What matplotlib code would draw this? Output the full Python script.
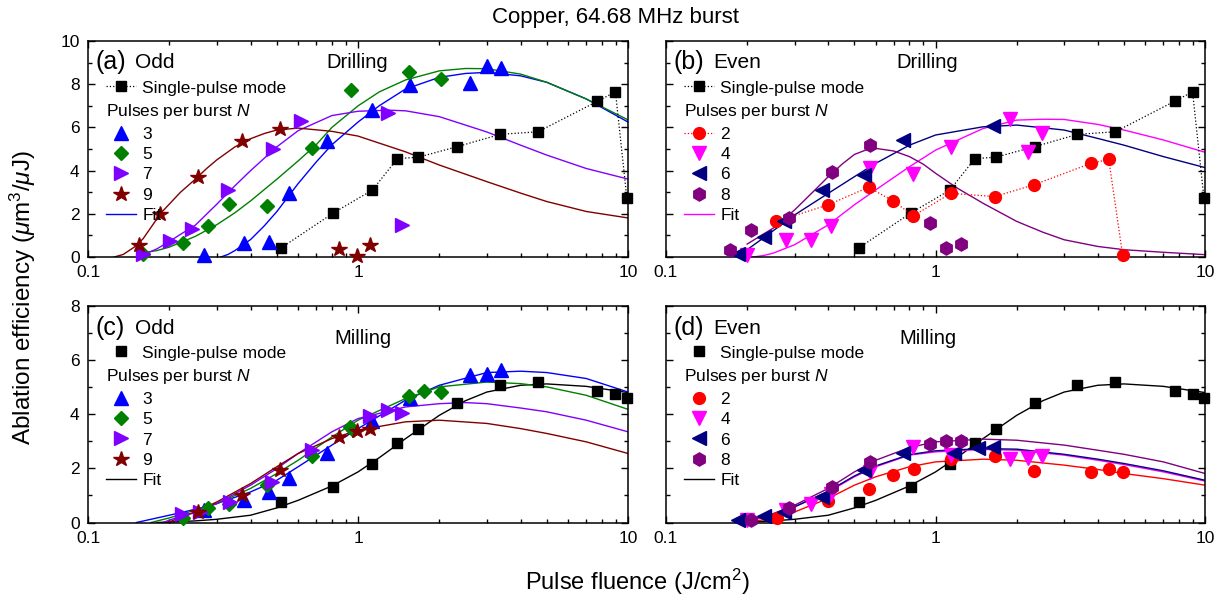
import matplotlib
matplotlib.use('Agg')
import matplotlib.pyplot as plt
from matplotlib.lines import Line2D
from matplotlib.ticker import LogLocator, NullFormatter, MultipleLocator

plt.rcParams['font.family'] = ['Liberation Sans', 'DejaVu Sans']
plt.rcParams['mathtext.fontset'] = 'custom'
plt.rcParams['mathtext.rm'] = 'Liberation Sans'
plt.rcParams['mathtext.it'] = 'Liberation Sans:italic'

# single-pulse mode (same fluences for drilling and milling)
sp_x = [0.52, 0.81, 1.13, 1.40, 1.67, 2.33, 3.36, 4.64, 7.7, 8.98, 9.9]
sp_drill = [0.43, 2.04, 3.1, 4.56, 4.62, 5.11, 5.68, 5.8, 7.21, 7.65, 2.72]
sp_mill = [0.76, 1.32, 2.18, 2.94, 3.47, 4.43, 5.07, 5.19, 4.86, 4.73, 4.6]

# (a) drilling, odd N
d3_x = [0.268, 0.377, 0.468, 0.557, 0.77, 1.13, 1.56, 2.59, 3.01, 3.39]
d3_y = [0.08, 0.63, 0.7, 2.96, 5.36, 6.81, 7.96, 8.04, 8.85, 8.73]
d5_x = [0.16, 0.225, 0.279, 0.334, 0.462, 0.677, 0.94, 1.54, 2.03]
d5_y = [0.15, 0.66, 1.45, 2.47, 2.37, 5.05, 7.73, 8.58, 8.24]
d7_x = [0.16, 0.202, 0.243, 0.33, 0.485, 0.617, 1.29, 1.46]
d7_y = [0.12, 0.74, 1.32, 3.11, 4.98, 6.32, 6.68, 1.5]
d9_x = [0.155, 0.185, 0.256, 0.371, 0.516, 0.847, 0.99, 1.11]
d9_y = [0.58, 2.0, 3.69, 5.38, 5.91, 0.35, 0.03, 0.55]

# (b) drilling, even N
d2_x = [0.257, 0.4, 0.564, 0.695, 0.827, 1.14, 1.66, 2.31, 3.78, 4.39, 4.94]
d2_y = [1.65, 2.42, 3.23, 2.6, 1.91, 2.95, 2.8, 3.34, 4.34, 4.52, 0.1]
d4_x = [0.2, 0.279, 0.345, 0.411, 0.569, 0.827, 1.14, 1.89, 2.2, 2.49]
d4_y = [0.1, 0.8, 0.8, 1.42, 4.1, 3.83, 5.1, 6.37, 4.88, 5.75]
d6_x = [0.185, 0.231, 0.275, 0.38, 0.545, 0.757, 1.64]
d6_y = [0.14, 0.91, 1.65, 3.11, 3.8, 5.42, 6.06]
d8_x = [0.173, 0.206, 0.287, 0.412, 0.571, 0.953, 1.09, 1.24]
d8_y = [0.34, 1.23, 1.8, 3.92, 5.18, 1.57, 0.42, 0.6]

# (c) milling, odd N
m3_x = [0.268, 0.377, 0.468, 0.557, 0.77, 1.13, 1.56, 2.59, 3.01, 3.39]
m3_y = [0.46, 0.82, 1.11, 1.65, 2.57, 3.74, 4.6, 5.44, 5.5, 5.62]
m5_x = [0.225, 0.279, 0.334, 0.462, 0.677, 0.93, 0.96, 1.54, 1.75, 2.03]
m5_y = [0.18, 0.52, 0.7, 1.4, 2.46, 3.52, 3.43, 4.67, 4.85, 4.83]
m7_x = [0.223, 0.26, 0.337, 0.481, 0.674, 1.11, 1.29, 1.46]
m7_y = [0.3, 0.4, 0.76, 1.5, 2.67, 3.94, 4.15, 4.03]
m9_x = [0.256, 0.371, 0.516, 0.847, 0.99, 1.11]
m9_y = [0.39, 1.03, 1.93, 3.16, 3.37, 3.45]

# (d) milling, even N
m2_x = [0.258, 0.4, 0.564, 0.695, 0.83, 1.14, 1.66, 2.31, 3.78, 4.39, 4.94]
m2_y = [0.15, 0.79, 1.23, 1.77, 1.96, 2.34, 2.46, 1.9, 1.85, 1.97, 1.85]
m4_x = [0.2, 0.279, 0.345, 0.411, 0.569, 0.827, 1.14, 1.89, 2.2, 2.49]
m4_y = [0.09, 0.46, 0.68, 1.07, 1.87, 2.79, 2.49, 2.36, 2.4, 2.46]
m6_x = [0.185, 0.231, 0.275, 0.38, 0.545, 0.757, 1.17, 1.44, 1.64]
m6_y = [0.09, 0.23, 0.39, 0.95, 1.93, 2.58, 2.55, 2.76, 2.79]
m8_x = [0.206, 0.287, 0.412, 0.571, 0.953, 1.09, 1.24]
m8_y = [0.11, 0.52, 1.32, 2.22, 2.89, 3.0, 3.0]

# fit curves
fa3_x = [0.31, 0.33, 0.35, 0.4, 0.45, 0.5, 0.6, 0.7, 0.8, 1, 1.2, 1.5, 2, 2.5, 3, 4, 5, 7, 10]
fa3_y = [0, 0.12, 0.3, 0.81, 1.45, 2.1, 3.4, 4.4, 5.2, 6.25, 7.01, 7.78, 8.32, 8.5, 8.55, 8.39, 8.09, 7.32, 6.25]
fa5_x = [0.16, 0.18, 0.2, 0.25, 0.3, 0.35, 0.4, 0.5, 0.6, 0.7, 0.8, 1, 1.2, 1.5, 2, 2.5, 3, 4, 5, 7, 10]
fa5_y = [0.2, 0.3, 0.46, 0.96, 1.5, 2.05, 2.6, 3.6, 4.45, 5.2, 6.0, 7.0, 7.65, 8.2, 8.62, 8.73, 8.72, 8.47, 8.09, 7.32, 6.35]
fa7_x = [0.16, 0.18, 0.2, 0.22, 0.25, 0.3, 0.35, 0.4, 0.5, 0.6, 0.8, 1, 1.3, 1.5, 2, 3, 4, 5, 7, 10]
fa7_y = [0.1, 0.38, 0.72, 1.05, 1.48, 2.45, 3.3, 4.0, 5.1, 5.85, 6.55, 6.75, 6.8, 6.77, 6.5, 5.79, 5.18, 4.72, 4.1, 3.61]
fa9_x = [0.125, 0.135, 0.15, 0.16, 0.175, 0.185, 0.2, 0.22, 0.25, 0.275, 0.3, 0.35, 0.4, 0.45, 0.5,
         0.6, 0.8, 1, 1.5, 2, 3, 4, 5, 7, 10]
fa9_y = [0, 0.12, 0.5, 0.85, 1.55, 2.0, 2.45, 3.0, 3.61, 4.1, 4.5, 5.1, 5.48, 5.72, 5.88,
         5.97, 5.82, 5.6, 4.87, 4.26, 3.49, 2.96, 2.57, 2.11, 1.81]

fb4_x = [0.21, 0.23, 0.25, 0.3, 0.4, 0.5, 0.6, 0.8, 1, 1.5, 2, 2.5, 3, 4, 5, 7, 10]
fb4_y = [0, 0.07, 0.18, 0.57, 1.49, 2.42, 3.11, 4.18, 4.95, 5.95, 6.34, 6.38, 6.37, 6.14, 5.88, 5.42, 4.85]
fb6_x = [0.185, 0.2, 0.225, 0.25, 0.3, 0.4, 0.5, 0.6, 0.8, 1, 1.5, 2, 3, 4, 5, 7, 10]
fb6_y = [0.1, 0.34, 0.8, 1.22, 1.95, 2.95, 3.72, 4.34, 5.18, 5.65, 6.03, 6.11, 5.88, 5.49, 5.18, 4.65, 4.14]
fb8_x = [0.2, 0.25, 0.3, 0.35, 0.4, 0.45, 0.5, 0.55, 0.6, 0.7, 0.8, 0.9, 1, 1.2, 1.5, 2, 2.5, 3, 4, 5, 7, 10]
fb8_y = [0.6, 1.34, 2.18, 3.0, 3.72, 4.3, 4.75, 4.95, 5.03, 4.91, 4.65, 4.3, 3.88, 3.2, 2.49, 1.65, 1.15, 0.8,
         0.49, 0.34, 0.22, 0.11]

fsp_x = [0.18, 0.2, 0.25, 0.3, 0.4, 0.5, 0.6, 0.8, 1, 1.2, 1.5, 2, 2.5, 3, 4, 5, 7, 10]
fsp_y = [0, 0.02, 0.06, 0.12, 0.27, 0.54, 0.82, 1.35, 1.87, 2.4, 3.1, 3.96, 4.5, 4.82, 5.07, 5.12, 5.03, 4.8]

fc3_x = [0.151, 0.2, 0.25, 0.3, 0.4, 0.5, 0.6, 0.8, 1, 1.5, 2, 3, 4, 5, 7, 10]
fc3_y = [0, 0.27, 0.49, 0.7, 1.13, 1.56, 2.06, 2.86, 3.47, 4.52, 5.07, 5.54, 5.59, 5.54, 5.32, 4.82]
fc5_x = [0.171, 0.2, 0.25, 0.3, 0.4, 0.5, 0.6, 0.8, 1, 1.5, 2, 3, 4, 5, 7, 10]
fc5_y = [0, 0.17, 0.46, 0.7, 1.26, 1.81, 2.3, 3.16, 3.78, 4.58, 5.01, 5.19, 5.13, 5.01, 4.70, 4.18]
fc7_x = [0.19, 0.2, 0.25, 0.3, 0.4, 0.5, 0.6, 0.8, 1, 1.5, 2, 2.5, 3, 4, 5, 7, 10]
fc7_y = [0, 0.09, 0.39, 0.7, 1.38, 1.99, 2.55, 3.35, 3.84, 4.27, 4.39, 4.43, 4.39, 4.23, 4.09, 3.78, 3.35]
fc9_x = [0.197, 0.25, 0.3, 0.4, 0.5, 0.6, 0.8, 1, 1.5, 2, 3, 4, 5, 7, 10]
fc9_y = [0, 0.39, 0.76, 1.44, 2.06, 2.55, 3.1, 3.41, 3.72, 3.78, 3.66, 3.47, 3.29, 2.98, 2.55]

fd_x = [0.19, 0.2, 0.25, 0.3, 0.4, 0.5, 0.6, 0.8, 1, 1.5, 2, 3, 4, 5, 7, 10]
fd2_y = [0, 0.02, 0.15, 0.39, 0.89, 1.38, 1.69, 2.06, 2.24, 2.34, 2.3, 2.12, 1.96, 1.81, 1.62, 1.38]
fd4_y = [0, 0.05, 0.27, 0.58, 1.13, 1.69, 2.06, 2.49, 2.61, 2.7, 2.67, 2.49, 2.3, 2.14, 1.87, 1.53]
fd6_y = [0, 0.09, 0.3, 0.58, 1.16, 1.72, 2.09, 2.51, 2.65, 2.73, 2.71, 2.52, 2.34, 2.18, 1.91, 1.56]
fd8_y = [0, 0.09, 0.33, 0.64, 1.26, 1.87, 2.3, 2.77, 2.98, 3.08, 3.04, 2.86, 2.67, 2.52, 2.24, 1.81]

BLUE, GREEN, VIOLET, WINE = '#0000FF', '#008000', '#8000FF', '#800000'
RED, MAGENTA, NAVY, PURPLE = '#FF0000', '#FF00FF', '#000080', '#800080'

sty = {
    3: dict(marker='^', color=BLUE, ms=10),
    5: dict(marker='D', color=GREEN, ms=7.5),
    7: dict(marker='>', color=VIOLET, ms=10),
    9: dict(marker='*', color=WINE, ms=11.5),
    2: dict(marker='o', color=RED, ms=8.5),
    4: dict(marker='v', color=MAGENTA, ms=10),
    6: dict(marker='<', color=NAVY, ms=10),
    8: dict(marker='h', color=PURPLE, ms=9.5),
}

fig = plt.figure(figsize=(12.31, 5.95), dpi=100)
ax_a = fig.add_axes([0.0715, 0.568, 0.4387, 0.363])
ax_b = fig.add_axes([0.541, 0.568, 0.438, 0.363])
ax_c = fig.add_axes([0.0715, 0.1218, 0.4387, 0.364])
ax_d = fig.add_axes([0.541, 0.1218, 0.438, 0.364])


def setup(ax, ymax, ylabels):
    ax.set_xscale('log')
    ax.set_xlim(0.1, 10)
    ax.set_ylim(0, ymax)
    ax.set_xticks([0.1, 1, 10], ['0.1', '1', '10'])
    ax.xaxis.set_minor_locator(LogLocator(base=10, subs=range(2, 10)))
    ax.xaxis.set_minor_formatter(NullFormatter())
    ax.yaxis.set_major_locator(MultipleLocator(2))
    ax.yaxis.set_minor_locator(MultipleLocator(1))
    ax.tick_params(which='both', direction='in', top=True, right=True, labelsize=12.5, width=1)
    ax.tick_params(which='major', length=5, pad=6)
    ax.tick_params(which='minor', length=3)
    if not ylabels:
        ax.set_yticklabels([])
    for s in ax.spines.values():
        s.set_linewidth(1.1)


def pts(ax, x, y, n, line=False):
    st = sty[n]
    ax.plot(x, y, ls=':' if line else 'none', lw=0.9, marker=st['marker'], color=st['color'],
            ms=st['ms'], mec=st['color'], zorder=3, clip_on=False)


def fit(ax, x, y, color):
    ax.plot(x, y, color=color, lw=1.0, zorder=2)


def legends(ax, ns, sp_line, fit_color, dotted2=False):
    sp = Line2D([], [], color='k', ls=':' if sp_line else 'none', lw=0.9, marker='s', ms=6.5)
    l1 = ax.legend([sp], ['Single-pulse mode'], loc='upper left', bbox_to_anchor=(0.033, 0.818),
                   frameon=False, fontsize=12.5, borderpad=0, borderaxespad=0,
                   handlelength=1.75, handletextpad=0.35)
    ax.add_artist(l1)
    hs = []
    for n in ns:
        st = sty[n]
        ls = ':' if (dotted2 and n == 2) else 'none'
        hs.append(Line2D([], [], ls=ls, lw=0.9, marker=st['marker'], color=st['color'], ms=st['ms']))
    hs.append(Line2D([], [], color=fit_color, lw=1.0))
    labels = [str(n) for n in ns] + ['Fit']
    ax.legend(hs, labels, loc='upper left', bbox_to_anchor=(0.033, 0.716), frameon=False,
              fontsize=12.5, title=r'Pulses per burst $\mathit{N}$', title_fontsize=12.5,
              alignment='left', borderpad=0, borderaxespad=0, handlelength=1.75,
              handletextpad=0.35, labelspacing=0.3)


def tags(ax, letter, parity, mode, ymode, xmode):
    ax.text(0.014, ymode + 0.005, letter, transform=ax.transAxes, fontsize=18, va='center')
    ax.text(0.087, ymode, parity, transform=ax.transAxes, fontsize=15, va='center')
    ax.text(xmode, ymode - (0.0 if mode == 'Drilling' else 0.045), mode, transform=ax.transAxes,
            fontsize=14.5, va='center', ha='center')


# (a)
setup(ax_a, 10, True)
fit(ax_a, fa3_x, fa3_y, BLUE)
fit(ax_a, fa5_x, fa5_y, GREEN)
fit(ax_a, fa7_x, fa7_y, VIOLET)
fit(ax_a, fa9_x, fa9_y, WINE)
ax_a.plot(sp_x, sp_drill, color='k', ls=':', lw=0.9, marker='s', ms=6.5, zorder=3, clip_on=False)
pts(ax_a, d3_x, d3_y, 3)
pts(ax_a, d5_x, d5_y, 5)
pts(ax_a, d7_x, d7_y, 7)
pts(ax_a, d9_x, d9_y, 9)
legends(ax_a, [3, 5, 7, 9], True, BLUE)
tags(ax_a, '(a)', 'Odd', 'Drilling', 0.9, 0.498)

# (b)
setup(ax_b, 10, False)
fit(ax_b, fb4_x, fb4_y, MAGENTA)
fit(ax_b, fb6_x, fb6_y, NAVY)
fit(ax_b, fb8_x, fb8_y, PURPLE)
ax_b.plot(sp_x, sp_drill, color='k', ls=':', lw=0.9, marker='s', ms=6.5, zorder=3, clip_on=False)
pts(ax_b, d2_x, d2_y, 2, line=True)
pts(ax_b, d4_x, d4_y, 4)
pts(ax_b, d6_x, d6_y, 6)
pts(ax_b, d8_x, d8_y, 8)
legends(ax_b, [2, 4, 6, 8], True, MAGENTA, dotted2=True)
tags(ax_b, '(b)', 'Even', 'Drilling', 0.9, 0.485)

# (c)
setup(ax_c, 8, True)
fit(ax_c, fsp_x, fsp_y, 'k')
fit(ax_c, fc3_x, fc3_y, BLUE)
fit(ax_c, fc5_x, fc5_y, GREEN)
fit(ax_c, fc7_x, fc7_y, VIOLET)
fit(ax_c, fc9_x, fc9_y, WINE)
ax_c.plot(sp_x, sp_mill, color='k', ls='none', marker='s', ms=6.5, zorder=3, clip_on=False)
pts(ax_c, m3_x, m3_y, 3)
pts(ax_c, m5_x, m5_y, 5)
pts(ax_c, m7_x, m7_y, 7)
pts(ax_c, m9_x, m9_y, 9)
legends(ax_c, [3, 5, 7, 9], False, 'k')
tags(ax_c, '(c)', 'Odd', 'Milling', 0.895, 0.51)

# (d)
setup(ax_d, 8, False)
fit(ax_d, fsp_x, fsp_y, 'k')
fit(ax_d, fd_x, fd2_y, RED)
fit(ax_d, fd_x, fd4_y, MAGENTA)
fit(ax_d, fd_x, fd6_y, NAVY)
fit(ax_d, fd_x, fd8_y, PURPLE)
ax_d.plot(sp_x, sp_mill, color='k', ls='none', marker='s', ms=6.5, zorder=3, clip_on=False)
pts(ax_d, m2_x, m2_y, 2)
pts(ax_d, m4_x, m4_y, 4)
pts(ax_d, m6_x, m6_y, 6)
pts(ax_d, m8_x, m8_y, 8)
legends(ax_d, [2, 4, 6, 8], False, 'k')
tags(ax_d, '(d)', 'Even', 'Milling', 0.895, 0.485)

fig.text(0.5, 0.97, 'Copper, 64.68 MHz burst', ha='center', va='center', fontsize=16)
fig.text(0.019, 0.5, r'Ablation efficiency ($\mu$m$^3$/$\mu$J)', rotation=90,
         ha='center', va='center', fontsize=17.5)
fig.text(0.518, 0.022, r'Pulse fluence (J/cm$^2$)', ha='center', va='center', fontsize=17)

fig.savefig('out.png', dpi=100)
